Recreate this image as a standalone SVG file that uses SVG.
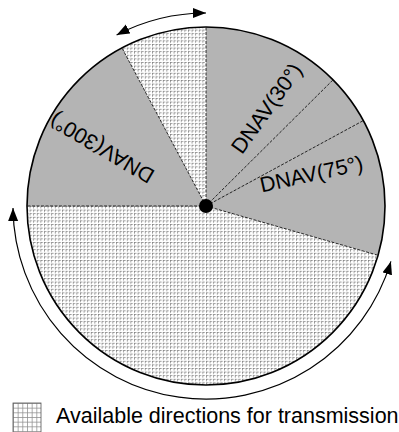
<svg xmlns="http://www.w3.org/2000/svg" width="399" height="432" viewBox="0 0 399 432">
  <style>
    .lbl { font-family: "Liberation Sans", Arial, sans-serif; font-size: 21.5px; fill: #000; }
    .div { stroke: #000; stroke-width: 0.8; stroke-dasharray: 3 1.5; fill: none; }
    .arc { stroke: #000; stroke-width: 1.2; fill: none; marker-start: url(#ah); marker-end: url(#ah); }
  </style>
  <defs>
    <pattern id="grid" patternUnits="userSpaceOnUse" width="3.6" height="3.6" x="206" y="206">
      <rect width="3.6" height="3.6" fill="#ffffff"/>
      <path d="M0,0.4 H3.6 M0.4,0 V3.6" stroke="#808080" stroke-width="0.8" stroke-dasharray="2.4 1.2"/>
    </pattern>
    <pattern id="lgrid" patternUnits="userSpaceOnUse" width="4.67" height="4.67" x="13" y="403">
      <rect width="4.67" height="4.67" fill="#ffffff"/>
      <path d="M0,0.4 H4.67 M0.4,0 V4.67" stroke="#8c8c8c" stroke-width="0.8"/>
    </pattern>
    <marker id="ah" markerUnits="userSpaceOnUse" markerWidth="14" markerHeight="11" refX="13" refY="5" orient="auto-start-reverse">
      <path d="M0,0 L13,5 L0,10 z" fill="#000"/>
    </marker>
  </defs>

  <g id="disc">
    <circle cx="206" cy="206" r="179" fill="url(#grid)"/>
  </g>
  <g id="sector-dnav-right">
    <path d="M206,206 L206,27 A179,179 0 0 1 378.1,255.3 Z" fill="#b4b4b4"/>
  </g>
  <g id="sector-dnav-left">
    <path d="M206,206 L27,206 A179,179 0 0 1 122,48 Z" fill="#b4b4b4"/>
  </g>

  <g id="connectors">
    <line class="div" x1="206" y1="206" x2="206" y2="27"/>
    <line class="div" x1="206" y1="206" x2="333" y2="79.9"/>
    <line class="div" x1="206" y1="206" x2="363.3" y2="120.6"/>
    <line class="div" x1="206" y1="206" x2="378.1" y2="255.3"/>
    <line class="div" x1="206" y1="206" x2="27" y2="206"/>
    <line class="div" x1="206" y1="206" x2="122" y2="48"/>
    <path class="arc" d="M116.6,35 A193,193 0 0 1 206,13"/>
    <path class="arc" d="M13,208 A193,193 0 0 0 390.9,261.4"/>
  </g>

  <g id="outline">
    <circle cx="206" cy="206" r="179" fill="none" stroke="#000" stroke-width="1.6"/>
  </g>

  <g id="center-node">
    <circle cx="206" cy="206" r="7" fill="#000"/>
  </g>

  <g id="label-dnav30">
    <text class="lbl" text-anchor="middle" transform="translate(266.3,108.1) rotate(-54.5)" y="7.7">DNAV(30°)</text>
  </g>
  <g id="label-dnav75">
    <text class="lbl" text-anchor="middle" transform="translate(311.3,173.7) rotate(-12.5)" y="7.7">DNAV(75°)</text>
  </g>
  <g id="label-dnav300">
    <text class="lbl" text-anchor="middle" transform="translate(101.7,148.5) rotate(210.5)" y="7.7">DNAV(300°)</text>
  </g>

  <g id="legend">
    <rect x="13" y="403" width="28" height="34" fill="url(#lgrid)" stroke="#555" stroke-width="0.8"/>
    <text class="lbl" x="56" y="423">Available directions for transmission</text>
  </g>
</svg>
